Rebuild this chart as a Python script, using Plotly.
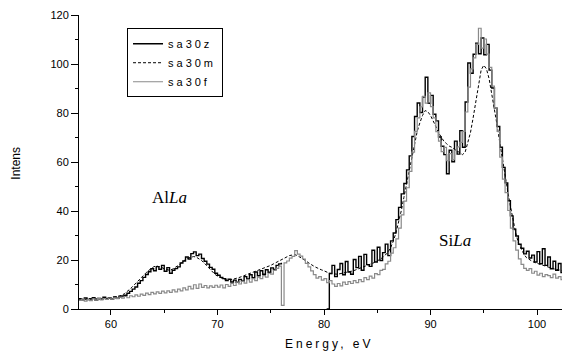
import numpy as np
import plotly.graph_objects as go

# Energy grid, eV (0.25 eV step)
energy = np.round(np.arange(57.0, 103.001, 0.25), 2)

N = None
sa30z = [
    4.2, 3.8, 4.5, 3.9,   # 57
    4.1, 4.6, 3.7, 4.3,   # 58
    4.0, 4.8, 4.2, 4.5,   # 59
    4.1, 4.9, 4.4, 5.0,   # 60
    5.3, 5.6, 6.4, 7.2,   # 61
    8.1, 9.0, 10.5, 11.6,  # 62
    12.9, 14.1, 15.2, 16.4,  # 63
    15.6, 17.3, 16.2, 17.8,  # 64
    15.4, 16.9, 14.6, 15.8,  # 65
    16.5, 17.2, 18.8, 19.6,  # 66
    21.2, 20.4, 22.6, 23.3,  # 67
    21.8, 22.4, 20.6, 19.5,  # 68
    18.3, 17.0, 16.2, 14.6,  # 69
    13.8, 12.9, 12.4, 11.6,  # 70
    12.2, 11.0, 11.8, 10.9,  # 71
    12.1, 11.4, 13.2, 12.3,  # 72
    14.0, 12.8, 15.1, 13.6,  # 73
    15.6, 14.2, 16.0, 15.0,  # 74
    16.8, 16.1, 17.8, 18.4,  # 75
    18.9, N, N, N,           # 76
    N, N, N, N,              # 77
    N, N, N, N,              # 78
    N, N, N, N,              # 79
    N, 0.0, 14.5, 17.8,      # 80
    13.2, 16.1, 18.6, 14.0,  # 81
    19.4, 15.1, 14.2, 20.2,  # 82
    16.9, 21.5, 15.8, 22.3,  # 83
    18.1, 17.4, 24.0, 19.2,  # 84
    25.2, 19.8, 23.0, 26.5,  # 85
    21.8, 27.8, 31.0, 36.5,  # 86
    41.5, 47.0, 51.2, 56.8,  # 87
    62.5, 70.4, 78.6, 84.1,  # 88
    80.2, 86.5, 94.6, 84.0,  # 89
    87.2, 79.5, 76.8, 70.2,  # 90
    66.4, 63.0, 55.2, 64.8,  # 91
    60.1, 68.5, 63.2, 72.8,  # 92
    66.0, 84.5, 100.4, 96.2,  # 93
    104.0, 108.5, 104.2, 110.6,  # 94
    103.8, 108.0, 97.5, 90.2,  # 95
    82.0, 74.5, 66.0, 57.8,  # 96
    51.5, 44.2, 38.0, 32.6,  # 97
    29.8, 26.4, 24.8, 22.5,  # 98
    23.6, 20.8, 22.0, 19.2,  # 99
    23.4, 18.5, 24.6, 17.8,  # 100
    21.2, 16.4, 19.5, 15.8,  # 101
    18.6, 14.9, 17.2, 13.8,  # 102
    16.5,                    # 103
]

sa30m = [
    4.0, 4.2, 3.9, 4.1,   # 57
    4.0, 4.3, 4.1, 4.4,   # 58
    4.2, 4.5, 4.3, 4.6,   # 59
    4.5, 4.8, 4.9, 5.2,   # 60
    5.6, 6.2, 7.0, 8.0,   # 61
    9.0, 10.2, 11.4, 12.6,  # 62
    13.6, 14.6, 15.6, 16.6,  # 63
    17.2, 17.6, 17.4, 17.0,  # 64
    16.4, 16.0, 15.8, 16.2,  # 65
    16.8, 17.6, 18.4, 19.4,  # 66
    20.2, 20.8, 21.2, 21.4,  # 67
    21.2, 20.6, 19.8, 18.8,  # 68
    17.6, 16.4, 15.2, 14.2,  # 69
    13.4, 12.8, 12.4, 12.2,  # 70
    12.0, 12.0, 12.2, 12.4,  # 71
    12.8, 13.2, 13.6, 14.0,  # 72
    14.4, 14.8, 15.2, 15.6,  # 73
    16.0, 16.4, 16.8, 17.2,  # 74
    17.8, 18.4, 19.0, 19.6,  # 75
    20.2, 20.8, 21.4, 21.8,  # 76
    22.0, 22.2, 21.8, 21.2,  # 77
    20.6, 19.8, 19.0, 18.2,  # 78
    17.6, 17.0, 16.4, 16.0,  # 79
    15.6, 15.0, 14.6, 14.4,  # 80
    14.2, 14.2, 14.4, 14.6,  # 81
    14.8, 15.0, 15.4, 15.6,  # 82
    16.0, 16.4, 16.8, 17.2,  # 83
    17.6, 18.0, 18.4, 19.0,  # 84
    19.6, 20.2, 21.0, 22.0,  # 85
    23.2, 25.0, 27.6, 31.0,  # 86
    35.0, 40.0, 45.5, 51.0,  # 87
    57.0, 63.0, 68.0, 72.5,  # 88
    76.0, 79.0, 81.0, 80.5,  # 89
    79.0, 77.0, 74.5, 72.0,  # 90
    70.0, 68.5, 67.5, 66.5,  # 91
    66.0, 65.2, 64.5, 63.5,  # 92
    63.0, 64.0, 67.5, 72.0,  # 93
    78.0, 85.0, 92.0, 97.5,  # 94
    99.5, 98.0, 94.0, 88.0,  # 95
    82.0, 75.0, 68.0, 61.0,  # 96
    54.0, 48.0, 42.0, 36.0,  # 97
    31.0, 27.0, 24.5, 22.5,  # 98
    21.0, 20.2, 19.6, 19.0,  # 99
    18.6, 18.2, 17.8, 17.4,  # 100
    17.0, 16.8, 16.5, 16.2,  # 101
    16.0, 15.8, 15.6, 15.4,  # 102
    15.2,                    # 103
]

sa30f = [
    3.5, 4.0, 3.2, 3.8,   # 57
    3.4, 4.1, 3.6, 4.3,   # 58
    3.7, 4.2, 3.9, 4.5,   # 59
    4.0, 4.6, 4.2, 4.9,   # 60
    4.4, 5.1, 4.6, 5.4,   # 61
    5.0, 5.8, 5.2, 6.1,   # 62
    5.6, 6.5, 5.9, 6.8,   # 63
    6.2, 7.0, 6.4, 7.3,   # 64
    6.6, 7.4, 6.8, 7.8,   # 65
    7.0, 8.1, 7.4, 8.6,   # 66
    7.8, 9.2, 8.2, 9.9,   # 67
    8.4, 10.2, 8.8, 9.6,  # 68
    8.6, 9.4, 8.8, 9.7,   # 69
    8.9, 9.8, 8.6, 10.0,  # 70
    9.2, 10.4, 9.6, 11.0,  # 71
    10.2, 11.3, 10.6, 12.0,  # 72
    11.0, 12.4, 11.6, 13.0,  # 73
    12.4, 13.6, 13.0, 14.6,  # 74
    14.2, 15.8, 16.6, 17.5,  # 75
    1.5, 18.8, 19.6, 20.8,   # 76
    21.5, 23.8, 22.4, 21.6,  # 77
    20.4, 18.6, 17.2, 15.6,  # 78
    14.0, 12.6, 13.2, 11.8,  # 79
    12.4, 10.8, 11.6, 10.2,  # 80
    9.2, 10.4, 9.4, 11.0,    # 81
    10.0, 11.2, 10.4, 11.6,  # 82
    10.8, 12.0, 11.2, 12.8,  # 83
    12.0, 13.4, 12.6, 14.4,  # 84
    14.0, 15.8, 16.2, 18.4,  # 85
    19.5, 22.8, 25.0, 28.6,  # 86
    33.0, 38.4, 44.0, 49.5,  # 87
    56.2, 64.0, 72.5, 78.0,  # 88
    82.5, 86.8, 84.0, 88.2,  # 89
    82.6, 78.0, 72.4, 68.5,  # 90
    64.2, 66.0, 60.5, 63.4,  # 91
    61.0, 64.8, 66.2, 68.0,  # 92
    72.5, 80.4, 90.6, 98.0,  # 93
    102.5, 108.0, 114.6, 106.5,  # 94
    110.2, 104.0, 98.6, 91.0,  # 95
    82.0, 72.5, 62.0, 53.0,  # 96
    47.5, 40.2, 33.0, 27.8,  # 97
    24.0, 20.5, 18.2, 16.6,  # 98
    15.8, 16.5, 14.6, 15.4,  # 99
    13.8, 14.6, 13.2, 14.0,  # 100
    13.6, 12.8, 14.2, 12.6,  # 101
    13.2, 12.0, 13.6, 12.4,  # 102
    13.0,                    # 103
]

assert len(sa30z) == len(energy) == len(sa30m) == len(sa30f)

x_ticks = [60, 70, 80, 90, 100]
y_ticks = [0, 20, 40, 60, 80, 100, 120]

FONT = "Liberation Sans, Arial, sans-serif"
SERIF = "Liberation Serif, Times New Roman, serif"
LS = '<span style="letter-spacing:3px">{}</span>'

fig = go.Figure()
fig.add_trace(go.Scatter(x=energy, y=sa30z, name=LS.format("sa30z"), mode="lines",
                         line=dict(color="black", width=1.4, shape="hv"),
                         connectgaps=False))
fig.add_trace(go.Scatter(x=energy, y=sa30m, name=LS.format("sa30m"), mode="lines",
                         line=dict(color="black", width=1, dash="3px,2px")))
fig.add_trace(go.Scatter(x=energy, y=sa30f, name=LS.format("sa30f"), mode="lines",
                         line=dict(color="#8a8a8a", width=1.2, shape="hv")))

fig.add_annotation(x=65.5, y=45.5, text="Al<i>La</i>", showarrow=False,
                   font=dict(family=SERIF, size=17, color="black"))
fig.add_annotation(x=92.3, y=27.8, text="Si<i>La</i>", showarrow=False,
                   font=dict(family=SERIF, size=17, color="black"))
# axis titles
fig.add_annotation(xref="paper", yref="paper", x=0.510, y=-0.119,
                   text='<span style="letter-spacing:3px">Energy, eV</span>',
                   showarrow=False, font=dict(family=FONT, size=12, color="black"),
                   xanchor="center", yanchor="middle")
fig.add_annotation(xref="paper", yref="paper", x=-0.129, y=0.497,
                   text="Intens", textangle=-90,
                   showarrow=False, font=dict(family=FONT, size=12, color="black"),
                   xanchor="center", yanchor="middle")

# The page body has an 8px default margin, so the figure is sized and
# offset to land the plot area where the reference has it.
fig.update_layout(
    width=562, height=345,
    margin=dict(l=71, r=1, t=7, b=44, autoexpand=False),
    paper_bgcolor="white", plot_bgcolor="white",
    font=dict(family=FONT, size=11, color="black"),
    legend=dict(x=0.098, y=0.955, xanchor="left", yanchor="top",
                bordercolor="black", borderwidth=1, bgcolor="white",
                font=dict(family=FONT, size=11, color="black"),
                tracegroupgap=0, itemwidth=30),
    xaxis=dict(range=[57, 103], tickvals=x_ticks, ticks="outside", ticklen=5,
               tickcolor="black", linecolor="black", linewidth=1,
               showgrid=False, zeroline=False, automargin=False,
               minor=dict(dtick=5, ticks="outside", ticklen=3, tickcolor="black")),
    yaxis=dict(range=[0, 120], tickvals=y_ticks, ticks="outside", ticklen=7,
               tickcolor="black", linecolor="black", linewidth=1,
               showgrid=False, zeroline=False, automargin=False,
               minor=dict(dtick=10, ticks="outside", ticklen=3, tickcolor="black")),
)

fig.write_html("out.html")
